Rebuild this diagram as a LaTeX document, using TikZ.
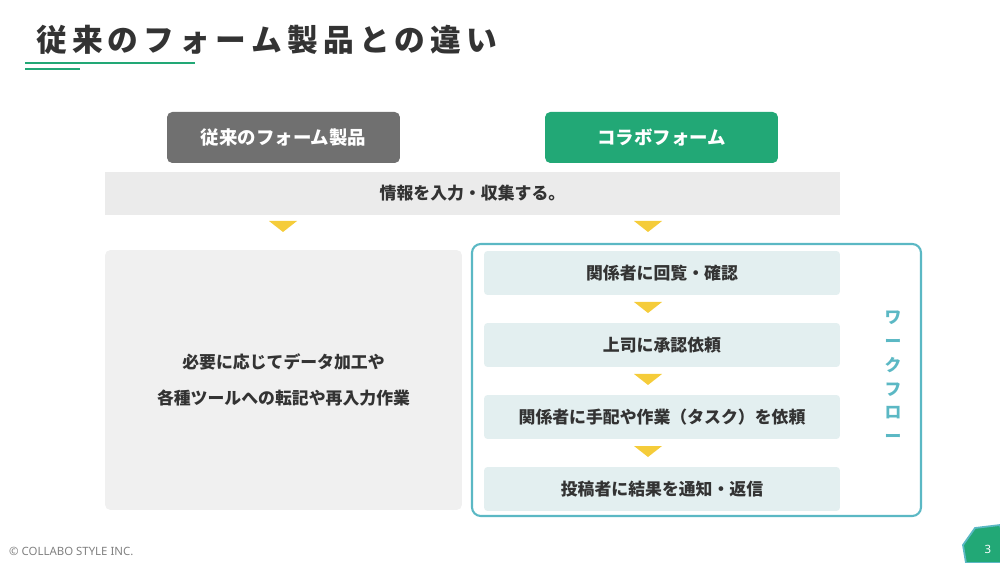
\documentclass[tikz,border=0pt]{standalone}
\usepackage{fontspec}
\setmainfont{Noto Sans CJK JP}
\newfontfamily\latinf{Noto Sans}
\definecolor{grn}{HTML}{22A876}
\definecolor{gry}{HTML}{707070}
\definecolor{band}{HTML}{EBEBEB}
\definecolor{lpan}{HTML}{F0F0F0}
\definecolor{teal}{HTML}{5BB8C4}
\definecolor{ibox}{HTML}{E3EFF0}
\definecolor{yel}{HTML}{F5CC3A}
\definecolor{txt}{HTML}{333333}
\begin{document}
\begin{tikzpicture}[x=0.02cm,y=-0.02cm,
  hdr/.style={rounded corners=3pt,minimum height=1.02cm,text=white,font=\bfseries\fontsize{10.5}{12}\selectfont},
  step box/.style={fill=ibox,rounded corners=2pt,minimum width=7.12cm,minimum height=0.88cm,text=txt,font=\bfseries\fontsize{9.6}{11}\selectfont},
  tri/.style={fill=yel}]
\useasboundingbox (0,0) rectangle (1000,563);
\node[anchor=west,text=txt,font=\bfseries\fontsize{17.5}{20}\selectfont] (title) at (30,40) {従\,来\,の\,フ\,ォ\,ー\,ム\,製\,品\,と\,の\,違\,い};
\draw[grn,line width=1.2pt] (25,63) -- (195,63);
\draw[grn,line width=1.2pt] (25,69) -- (80,69);
\node[hdr,fill=gry,minimum width=4.66cm] (old) at (283.5,137.5) {従来のフォーム製品};
\node[hdr,fill=grn,minimum width=4.66cm] (new) at (661.5,137.5) {コラボフォーム};
\node[fill=band,minimum width=14.7cm,minimum height=0.86cm,text=txt,font=\bfseries\fontsize{9.6}{11}\selectfont] (band) at (472.5,193.5) {情報を入力・収集する。};
\fill[tri] (269,221) -- (297,221) -- (283,232) -- cycle;
\fill[tri] (634,221) -- (662,221) -- (648,232) -- cycle;
\node[fill=lpan,rounded corners=3pt,minimum width=7.14cm,minimum height=5.2cm,align=center,text=txt,font=\bfseries\fontsize{9.6}{20}\selectfont] (left) at (283.5,380) {必要に応じてデータ加工や\\各種ツールへの転記や再入力作業};
\draw[teal,line width=1.2pt,rounded corners=5pt] (472,244) rectangle (921,516);
\node[step box] (s1) at (662,273) {関係者に回覧・確認};
\node[step box] (s2) at (662,345) {上司に承認依頼};
\node[step box] (s3) at (662,417) {関係者に手配や作業（タスク）を依頼};
\node[step box] (s4) at (662,489) {投稿者に結果を通知・返信};
\foreach \y in {302,374,446}{\fill[tri] (634,\y) -- (662,\y) -- (648,\y+11) -- cycle;}
\node[text=teal,font=\bfseries\fontsize{9.6}{13.5}\selectfont,align=center] (wf) at (893,377) {ワ\\ー\\ク\\フ\\ロ\\ー};
\node[anchor=west,text=gray,font=\latinf\fontsize{6.5}{8}\selectfont] (foot) at (3,551) {© COLLABO STYLE INC.};
\draw[teal,line width=1pt,fill=grn] (963,545) -- (975,528) -- (1000,525) -- (1010,563) -- (966,563) -- cycle;
\node[text=white,font=\latinf\fontsize{6.5}{8}\selectfont] (pg) at (988,549) {3};
\end{tikzpicture}
\end{document}
